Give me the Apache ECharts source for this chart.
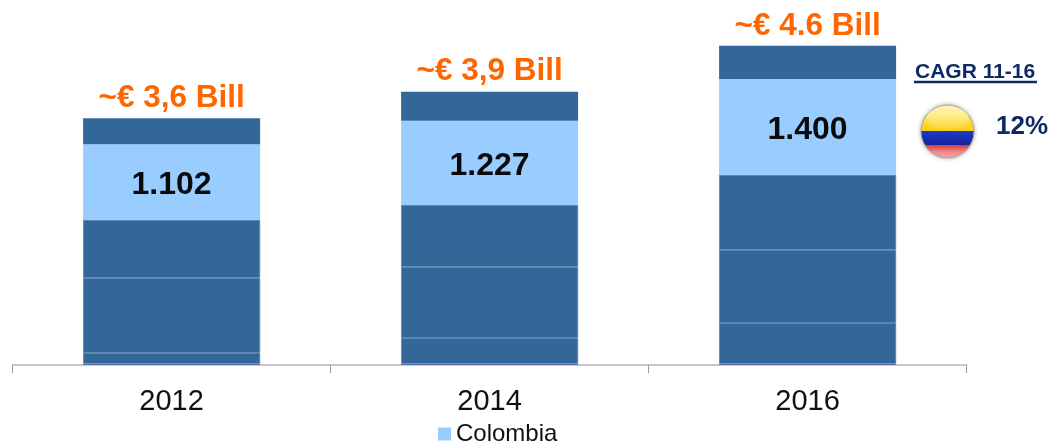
<!DOCTYPE html>
<html><head><meta charset="utf-8">
<style>html,body{margin:0;padding:0;background:#fff}#c{width:1050px;height:443px}</style>
<script src="https://cdn.jsdelivr.net/npm/echarts@6/dist/echarts.min.js"></script>
</head><body><div id="c"></div>
<script>
var categories = ['2012','2014','2016'];
var totalLabels = ['~€ 3,6 Bill','~€ 3,9 Bill','~€ 4.6 Bill'];
var base = [15,15,15];
var seg1 = [160,379,598];
var seg2 = [1095,1037,1066];
var seg3 = [847,905,1095];
var colombia = [1102,1227,1400];
var top5 = [380,424,482];
var FONT = '"Liberation Sans", Arial, sans-serif';
var chart = echarts.init(document.getElementById('c'));
function seg(name, data, color, extra){
  return Object.assign({name:name,type:'bar',stack:'t',data:data,barWidth:177,animation:false,
    itemStyle:{color:color},emphasis:{disabled:true}},extra||{});
}
var lineStyle = {color:'#336699',borderColor:'#5a83aa',borderWidth:0.7};
chart.setOption({
  animation:false,
  grid:{left:12.6,right:83.4,top:36,bottom:78},
  legend:{data:['Colombia'],left:438,top:422,padding:0,itemWidth:13,itemHeight:13,itemGap:5,icon:'rect',
    textStyle:{fontFamily:FONT,fontSize:24,color:'#111',padding:0}},
  xAxis:{type:'category',data:categories,
    axisLine:{lineStyle:{color:'#b5b5b5',width:1.5}},
    axisTick:{show:true,length:8,lineStyle:{color:'#999',width:1}},
    axisLabel:{fontFamily:FONT,fontSize:29,color:'#111',margin:22}},
  yAxis:{type:'value',min:0,max:4800,show:false},
  series:[
    seg('base',base,'#5870ac'),
    seg('a',seg1,'#336699',{itemStyle:lineStyle}),
    seg('b',seg2,'#336699',{itemStyle:lineStyle}),
    seg('c',seg3,'#336699',{itemStyle:lineStyle}),
    seg('Colombia',colombia,'#99ccff',{label:{show:true,position:'inside',offset:[0,3],fontFamily:FONT,fontSize:32,fontWeight:'bold',color:'#0a0a0a',
      formatter:function(p){return colombia[p.dataIndex].toLocaleString('de-DE');}}}),
    seg('d',top5,'#336699',{label:{show:true,position:'top',distance:4,fontFamily:FONT,fontSize:31.5,fontWeight:'bold',color:'#ff6600',
      formatter:function(p){return totalLabels[p.dataIndex];}}})
  ],
  graphic:[
    {type:'text',x:915,y:62,style:{text:'CAGR 11-16',font:'bold 21px '+FONT,fill:'#0d2a66'}},
    {type:'line',shape:{x1:914,y1:82,x2:1037,y2:82},style:{stroke:'#0d2a66',lineWidth:2.5}},
    {type:'text',x:996,y:114,style:{text:'12%',font:'bold 26px '+FONT,fill:'#0d2a66'}},
    {type:'circle',shape:{cx:947.5,cy:131.5,r:27},style:{fill:'#aaa',shadowBlur:4,shadowColor:'#aaa'}},
    {type:'circle',shape:{cx:947.5,cy:131.5,r:26},style:{fill:{type:'linear',x:0,y:0,x2:0,y2:1,colorStops:[
      {offset:0,color:'#ffe680'},{offset:0.2,color:'#ffe455'},{offset:0.49,color:'#f8cc10'},
      {offset:0.49,color:'#1a3bc8'},{offset:0.755,color:'#12239c'},
      {offset:0.755,color:'#d8383a'},{offset:0.9,color:'#ee8c88'},{offset:1,color:'#e9a8a6'}]}}},
    {type:'ellipse',shape:{cx:947.5,cy:118,rx:21,ry:12},style:{fill:{type:'linear',x:0,y:0,x2:0,y2:1,colorStops:[
      {offset:0,color:'rgba(255,255,255,0.45)'},{offset:1,color:'rgba(255,255,255,0.08)'}]}}}
  ]
});
</script></body></html>
